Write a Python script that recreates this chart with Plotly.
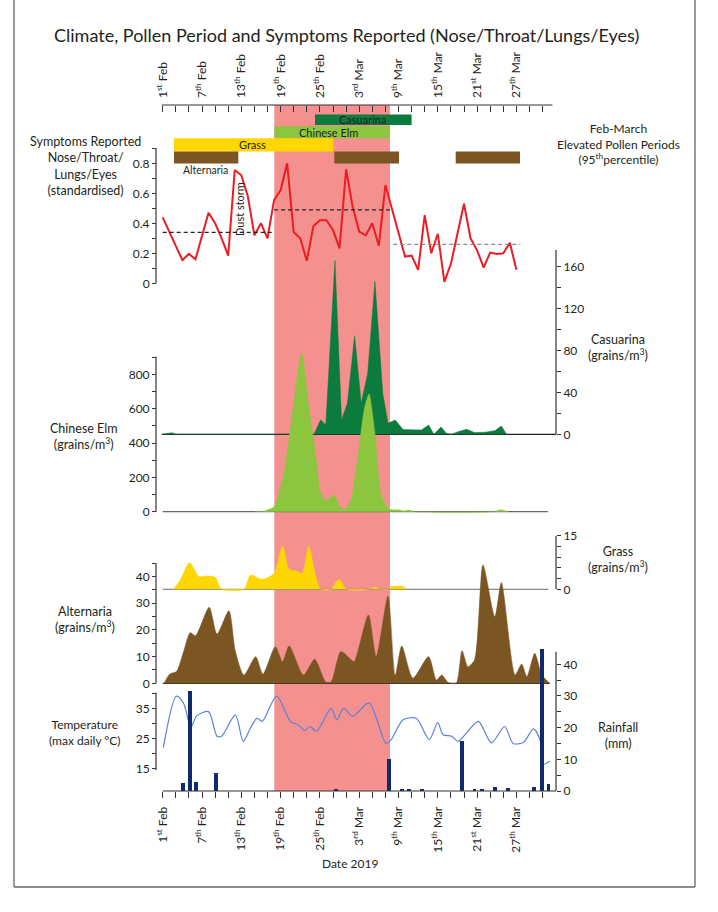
import plotly.graph_objects as go

# ---------------- data ----------------
tick_days = list(range(0, 60, 2))
label_days = [0, 6, 12, 18, 24, 30, 36, 42, 48, 54]
label_names = ["1<sup>st</sup> Feb", "7<sup>th</sup> Feb", "13<sup>th</sup> Feb", "19<sup>th</sup> Feb",
               "25<sup>th</sup> Feb", "3<sup>rd</sup> Mar", "9<sup>th</sup> Mar", "15<sup>th</sup> Mar",
               "21<sup>st</sup> Mar", "27<sup>th</sup> Mar"]

symptom_days = list(range(55))
symptom_vals = [0.44, 0.34, 0.25, 0.155, 0.196, 0.16, 0.32, 0.47, 0.40, 0.30,
                0.185, 0.755, 0.72, 0.58, 0.32, 0.40, 0.30, 0.555, 0.62, 0.80,
                0.34, 0.30, 0.15, 0.38, 0.42, 0.42, 0.355, 0.233, 0.76, 0.51,
                0.345, 0.32, 0.40, 0.25, 0.655, 0.49, 0.33, 0.178, 0.185, 0.09,
                0.455, 0.20, 0.33, 0.01, 0.13, 0.33, 0.53, 0.30, 0.22, 0.105,
                0.205, 0.195, 0.20, 0.27, 0.09]

mean_start = [0.0, 17.0, 35.2]
mean_end = [17.0, 34.7, 54.6]
mean_level = [0.34, 0.49, 0.26]

casuarina_days = [-0.15, 1.0, 1.4, 2.0, 23.1, 24.1, 24.9, 26.3, 27.3, 28.2, 29.3, 30.3, 31.3, 32.4,
                  33.6, 34.4, 35.5, 36.7, 39.5, 40.6, 41.4, 42.5, 43.3, 44.1, 45.1, 46.4, 47.6,
                  49.2, 50.7, 51.7, 52.5]
casuarina_vals = [0, 1, 1.5, 0, 0, 13.7, 9, 166, 13.7, 29.6, 94, 29.6, 58, 146,
                  39, 10.5, 13.7, 4.5, 4.1, 8.9, 0, 7, 1, 0, 2.5, 4.8, 1.6,
                  2, 3.5, 8, 0]

elm_days = [14.0, 15.4, 17.0, 18.5, 19.8, 21.2, 22.3, 23.4, 24.1, 24.9, 26.2, 26.9, 27.7, 28.7,
            29.8, 30.8, 31.5, 32.4, 33.3, 34.4, 35.4, 36.1, 36.8, 37.6, 38.5, 50.5, 51.6, 52.7]
elm_vals = [0, 3, 29, 224, 573, 926, 611, 320, 107, 65, 97, 38, 10, 65,
            320, 602, 685, 456, 107, 19, 10, 12, 4, 10, 0, 0, 12, 0]

grass_days = [1.6, 2.65, 4.1, 5.5, 6.7, 8.0, 9.0, 12.4, 13.4, 15.2, 17.0, 18.3, 19.3, 20.3,
              21.3, 22.3, 23.2, 24.1, 25.7, 26.9, 28.1, 31.6, 32.4, 33.2, 34.4, 35.0, 36.6, 37.3]
grass_vals = [0, 2.5, 7.5, 3.6, 3.75, 3.4, 0, 0, 4, 2.8, 4.5, 12.2, 5.6, 5.2,
              4.5, 12.2, 5, 0, 0, 2.8, 0, 0, 0.6, 0, 0, 0.8, 0.8, 0]

alt_days = [0.2, 1.1, 2.1, 3.2, 4.2, 5.0, 7.1, 8.3, 10.1, 11.1, 12.4, 14.2, 15.3, 17.2, 18.3,
            19.3, 21.5, 23.2, 24.9, 25.7, 27.2, 28.5, 29.2, 31.4, 32.6, 34.4, 35.5, 36.5,
            38.2, 40.6, 41.8, 42.6, 43.6, 44.8, 45.7, 46.6, 47.6, 48.9, 50.7, 51.7, 53.8,
            54.8, 55.6, 56.8, 57.9, 59.1]
alt_vals = [0, 3.5, 4.4, 12, 19, 17.8, 28.5, 18.5, 27.2, 12, 3.1, 10, 3.5, 13.75, 8.1,
            14, 3.1, 9, 0.5, 0.5, 11.9, 9.5, 8.1, 25.6, 10, 32.75, 3, 14,
            1.9, 10, 1.2, 3.1, 0.3, 0, 12.25, 6.25, 8.75, 44.4, 25, 37.75, 3.1,
            7.25, 2.5, 11.25, 3.1, 0]

temp_days = [0.1, 2.1, 3.2, 4.3, 5.2, 7.0, 8.3, 9.0, 11.1, 12.3, 13.4, 14.4, 15.2, 17.4, 19.5,
             20.6, 21.7, 22.5, 23.5, 25.7, 26.6, 27.6, 29.0, 31.5, 34.1, 34.9, 36.7, 38.7,
             40.7, 42.0, 42.8, 44.1, 45.1, 46.6, 48.2, 50.2, 52.2, 53.5, 55.1, 56.6, 57.6,
             58.1, 59.1]
temp_vals = [22, 39, 36.6, 28.8, 32.5, 33.9, 25.8, 25.8, 32.8, 24.1, 28.5, 31.7, 30.7, 39, 30.7,
             29.6, 27.7, 29, 27.4, 35, 31.2, 35, 32.3, 36.8, 23.4, 24.7, 31.2, 31.7,
             24.7, 30.3, 26.3, 25.8, 24.1, 27.4, 30.7, 23.6, 29, 23.4, 23.8, 28.2, 24.7,
             16.5, 17.6]

rain_days = [3.07, 4.2, 5.1, 8.2, 26.4, 34.5, 36.5, 37.6, 39.6, 45.7, 47.6, 48.7, 50.7, 52.7,
             56.7, 57.9, 58.9]
rain_vals = [2.4, 31.5, 2.9, 5.6, 0.6, 10, 0.4, 0.4, 0.4, 15.8, 0.4, 0.4, 1.4, 0.8,
             1.4, 44.7, 2.2]

elevated_period = [17.04, 34.7]
period_names = ["Casuarina", "Chinese Elm", "Grass", "Alternaria"]
period_ranges = [[[23.25, 38.0]],
                 [[17.04, 34.7]],
                 [[1.73, 26.05]],
                 [[1.73, 11.54], [26.2, 36.08], [44.73, 54.55]]]

# ---------------- styles / layout helpers ----------------
W, H = 718, 912
PL, PR, PT, PB = 156, 556, 105, 791
X0PX, PXDAY = 162.7, 6.55
XMIN = (PL - X0PX) / PXDAY
XMAX = (PR - X0PX) / PXDAY
FONT = "Lato"
TXT = "#231F20"
AX = "#333333"

RED = "#ED1C24"
DKGREEN = "#0B7B3E"
LTGREEN = "#8CC63F"
YELLOW = "#FFD700"
BROWN = "#7B5522"
PINK = "#F4918F"
TBLUE = "#5B82D6"
NAVY = "#102A6E"
period_colors = [DKGREEN, LTGREEN, YELLOW, BROWN]
period_rows_px = [(114.5, 125.0), (126.3, 138.3), (138.3, 151.5), (151.5, 163.5)]


def px_x(px):
    return (px - PL) / (PR - PL)


def px_y(py):
    return (PB - py) / (PB - PT)


def yaxis_cfg(y0px, v0, ppu, top_px, bot_px, side, tvals, ttext):
    return dict(
        domain=[px_y(bot_px), px_y(top_px)],
        range=[v0 - (bot_px - y0px) / ppu, v0 + (y0px - top_px) / ppu],
        anchor="free", position=0 if side == "left" else 1, side=side,
        showline=False, showgrid=False, zeroline=False,
        ticks="outside", ticklen=4, tickwidth=1, tickcolor=AX,
        tickmode="array", tickvals=tvals, ticktext=ttext,
        tickfont=dict(family=FONT, size=12, color=TXT),
    )


def labels(vals, every):
    out = []
    for v in vals:
        if abs(round(v / every) * every - v) < 1e-9:
            out.append(f"{v:g}")
        else:
            out.append("")
    return out


fig = go.Figure()

# symptoms
fig.add_trace(go.Scatter(x=symptom_days, y=symptom_vals, mode="lines",
                         line=dict(color=RED, width=2), xaxis="x", yaxis="y"))
for s, e, lv, c in zip(mean_start, mean_end, mean_level, ["#222222", "#222222", "#8C8C8C"]):
    fig.add_trace(go.Scatter(x=[s, e], y=[lv, lv], mode="lines",
                             line=dict(color=c, width=1.2, dash="4px,3px"), xaxis="x", yaxis="y"))

# casuarina
fig.add_trace(go.Scatter(x=casuarina_days, y=casuarina_vals, mode="lines", fill="tozeroy",
                         fillcolor=DKGREEN, line=dict(color=DKGREEN, width=0.5),
                         xaxis="x", yaxis="y2"))
# chinese elm
fig.add_trace(go.Scatter(x=elm_days, y=elm_vals, mode="lines", fill="tozeroy",
                         fillcolor=LTGREEN, line=dict(color=LTGREEN, width=0.5, shape="spline", smoothing=0.6),
                         xaxis="x", yaxis="y3"))
# grass
fig.add_trace(go.Scatter(x=grass_days, y=grass_vals, mode="lines", fill="tozeroy",
                         fillcolor=YELLOW, line=dict(color=YELLOW, width=0.5, shape="spline", smoothing=0.7),
                         xaxis="x", yaxis="y4"))
# alternaria
fig.add_trace(go.Scatter(x=alt_days, y=alt_vals, mode="lines", fill="tozeroy",
                         fillcolor=BROWN, line=dict(color=BROWN, width=0.5, shape="spline", smoothing=0.7),
                         xaxis="x", yaxis="y5"))
# temperature
fig.add_trace(go.Scatter(x=temp_days, y=temp_vals, mode="lines",
                         line=dict(color=TBLUE, width=1.2, shape="spline", smoothing=0.8),
                         xaxis="x", yaxis="y6"))
# rainfall
fig.add_trace(go.Bar(x=rain_days, y=rain_vals, width=0.6, marker=dict(color=NAVY, line=dict(width=0)),
                     xaxis="x", yaxis="y7"))
# dummy on top axis
fig.add_trace(go.Scatter(x=[XMIN], y=[0], mode="markers", marker=dict(opacity=0),
                         xaxis="x2", yaxis="y", hoverinfo="skip"))

tick_text = [label_names[label_days.index(d)] if d in label_days else "" for d in tick_days]

sym_ticks = [i / 10 for i in range(10)]
cas_ticks = list(range(0, 161, 20))
elm_ticks = list(range(0, 901, 100))
grass_ticks = [0, 3, 6, 9, 12, 15]
alt_ticks = list(range(0, 46, 5))
temp_ticks = [15, 20, 25, 30, 35, 40]
rain_ticks = list(range(0, 41, 5))

layout = dict(
    width=W, height=H, margin=dict(l=PL, r=W - PR, t=PT, b=H - PB),
    paper_bgcolor="white", plot_bgcolor="rgba(0,0,0,0)", showlegend=False,
    font=dict(family=FONT, color=TXT), bargap=0,
    xaxis=dict(domain=[0, 1], range=[XMIN, XMAX], anchor="free", position=0, side="bottom",
               showline=False, showgrid=False, zeroline=False,
               tickmode="array", tickvals=tick_days, ticktext=tick_text, tickangle=-90,
               ticks="outside", ticklen=6, tickwidth=1, tickcolor=AX, ticklabelstandoff=4,
               tickfont=dict(family=FONT, size=12, color=TXT)),
    xaxis2=dict(overlaying="x", matches="x", anchor="free", position=1, side="top",
                showline=False, showgrid=False, zeroline=False,
                tickmode="array", tickvals=tick_days, ticktext=tick_text, tickangle=-90,
                ticks="inside", ticklen=6, tickwidth=1, tickcolor=AX, ticklabelstandoff=7,
                tickfont=dict(family=FONT, size=12, color=TXT)),
    yaxis=yaxis_cfg(283.3, 0, 150, 140, 300, "left", sym_ticks, labels(sym_ticks, 0.2)),
    yaxis2=yaxis_cfg(434.3, 0, 1.0475, 245, 436, "right", cas_ticks, labels(cas_ticks, 40)),
    yaxis3=yaxis_cfg(511.7, 0, 0.17175, 340, 514, "left", elm_ticks, labels(elm_ticks, 200)),
    yaxis4=yaxis_cfg(589.3, 0, 3.557, 530, 591, "right", grass_ticks, labels(grass_ticks, 15)),
    yaxis5=yaxis_cfg(683.3, 0, 2.667, 560, 686, "left", alt_ticks, labels(alt_ticks, 10)),
    yaxis6=yaxis_cfg(708.3, 35, 3.03, 680, 791, "left", temp_ticks, ["15", "", "25", "", "35", ""]),
    yaxis7=yaxis_cfg(791, 0, 3.1675, 645, 791, "right", rain_ticks, labels(rain_ticks, 10)),
)
fig.update_layout(**layout)

shapes = []
# elevated pollen period
shapes.append(dict(type="rect", xref="x", yref="paper", x0=elevated_period[0], x1=elevated_period[1],
                   y0=0, y1=1, fillcolor=PINK, line=dict(width=0), layer="below"))
# spines
line = dict(color=AX, width=1.2)
for yref, xp, a, b in [("y", 0, 0, 0.9), ("y2", 1, 0, 176), ("y3", 0, 0, 902), ("y4", 1, 0, 15),
                       ("y5", 0, 0, 45), ("y6", 0, 14.6, 40.1), ("y7", 1, 0, 44)]:
    shapes.append(dict(type="line", xref="paper", yref=yref, x0=xp, x1=xp, y0=a, y1=b, line=line,
                       layer="above"))
# baselines
for yref, a, b, c in [("y2", -0.15, XMAX, "#222222"), ("y3", 0, 58.8, "#666666"),
                      ("y4", 0, 58.9, "#888888"), ("y5", 0, 59.1, "#333333")]:
    shapes.append(dict(type="line", xref="x", yref=yref, x0=a, x1=b, y0=0, y1=0,
                       line=dict(color=c, width=1.2), layer="below"))
# x axis lines
shapes.append(dict(type="line", xref="x", yref="paper", x0=0, x1=XMAX, y0=0, y1=0, line=line))
shapes.append(dict(type="line", xref="x", yref="paper", x0=-0.15, x1=59.5, y0=1, y1=1, line=line))
# period bars
for name, rngs, col, (t, bt) in zip(period_names, period_ranges, period_colors, period_rows_px):
    for s, e in rngs:
        shapes.append(dict(type="rect", xref="x", yref="paper", x0=s, x1=e, y0=px_y(bt), y1=px_y(t),
                           fillcolor=col, line=dict(width=0), layer="above"))
# frame
fr = dict(color="#666666", width=1.3)
shapes.append(dict(type="line", xref="paper", yref="paper", x0=px_x(14), x1=px_x(14),
                   y0=px_y(887), y1=px_y(0), line=fr))
shapes.append(dict(type="line", xref="paper", yref="paper", x0=px_x(695), x1=px_x(695),
                   y0=px_y(887), y1=px_y(0), line=fr))
shapes.append(dict(type="line", xref="paper", yref="paper", x0=px_x(14), x1=px_x(695),
                   y0=px_y(887), y1=px_y(887), line=fr))
fig.update_layout(shapes=shapes)


def ann(text, xpx, ypx, size=12, **kw):
    d = dict(text=text, x=px_x(xpx), y=px_y(ypx), xref="paper", yref="paper", showarrow=False,
             xanchor="center", yanchor="middle", font=dict(family=FONT, size=size, color=TXT))
    d.update(kw)
    return d


anns = [
    ann("Climate, Pollen Period and Symptoms Reported (Nose/Throat/Lungs/Eyes)", 346, 35, size=18),
    ann("Symptoms Reported<br>Nose/Throat/<br>Lungs/Eyes<br>(standardised)", 85, 166, size=12.5),
    ann("Feb-March<br>Elevated Pollen Periods<br>(95<sup>th</sup>percentile)", 618, 144),
    ann("Casuarina<br>(grains/m<sup>3</sup>)", 618, 347.5, size=12.5),
    ann("Chinese Elm<br>(grains/m<sup>3</sup>)", 84, 436, size=12.5),
    ann("Grass<br>(grains/m<sup>3</sup>)", 618, 559, size=12.5),
    ann("Alternaria<br>(grains/m<sup>3</sup>)", 85, 619, size=12.5),
    ann("Temperature<br>(max daily °C)", 85, 732),
    ann("Rainfall<br>(mm)", 618, 735.5, size=12.5),
    ann("Date 2019", 350, 863),
    ann("Alternaria", 205, 170, size=10.5),
    ann("Grass", 252, 145, size=11),
    ann("Casuarina", 362, 120, size=11),
    ann("Chinese Elm", 328, 132.5, size=11),
    ann("Dust storm", 239, 209, size=11, textangle=-90),
]
fig.update_layout(annotations=anns)

fig.write_html("out.html", config={"displayModeBar": False},
               post_script="document.body.style.margin='0px';")
